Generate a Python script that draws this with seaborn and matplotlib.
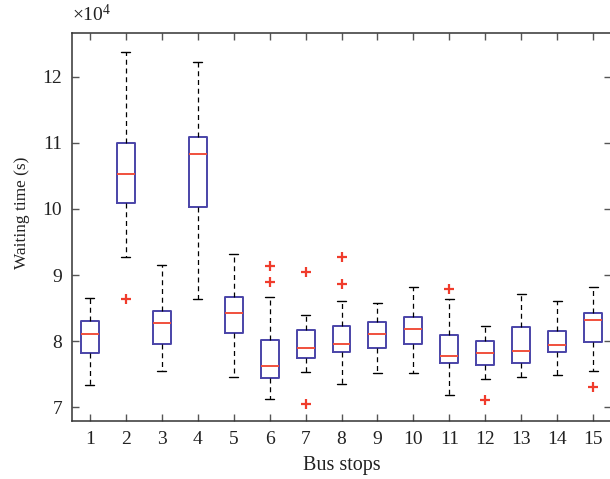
import numpy as np
import pandas as pd
import matplotlib
matplotlib.use("Agg")
import matplotlib.pyplot as plt
import seaborn as sns

# Values in units of 10^4 s
stops = [str(i) for i in range(1, 16)]
whisker_low = [7.34, 9.28, 7.55, 8.63, 7.46, 7.13, 7.53, 7.35, 7.52, 7.52, 7.18, 7.42, 7.45, 7.48, 7.55]
q1          = [7.82, 10.09, 7.95, 10.03, 8.12, 7.44, 7.75, 7.83, 7.90, 7.95, 7.67, 7.64, 7.67, 7.83, 7.98]
median      = [8.10, 10.53, 8.28, 10.83, 8.42, 7.62, 7.90, 7.95, 8.11, 8.19, 7.77, 7.82, 7.85, 7.94, 8.32]
q3          = [8.30, 11.00, 8.46, 11.09, 8.66, 8.02, 8.17, 8.23, 8.29, 8.36, 8.09, 8.00, 8.22, 8.16, 8.43]
whisker_high= [8.65, 12.37, 9.15, 12.22, 9.32, 8.66, 8.40, 8.60, 8.58, 8.82, 8.63, 8.23, 8.72, 8.61, 8.82]
outlier_stop  = ["2", "6", "6", "7", "7", "8", "8", "11", "12", "15"]
outlier_value = [8.64, 9.14, 8.90, 9.04, 7.05, 9.27, 8.87, 8.79, 7.11, 7.31]

rows = []
for s, a, b, c, d, e in zip(stops, whisker_low, q1, median, q3, whisker_high):
    for v in (a, b, c, d, e):
        rows.append({"stop": s, "value": v})
df = pd.DataFrame(rows)
df_out = pd.DataFrame({"stop": outlier_stop, "value": outlier_value})

sns.set_style("ticks")
plt.rcParams["font.family"] = ["Liberation Serif", "DejaVu Serif"]
plt.rcParams["mathtext.fontset"] = "custom"
plt.rcParams["mathtext.rm"] = "Liberation Serif"
plt.rcParams["mathtext.it"] = "Liberation Serif:italic"

fig = plt.figure(figsize=(6.10, 4.79), dpi=100)
ax = fig.add_axes([72/610, 58/479, 539/610, 387.7/479])

box_color = "#4a44a8"
med_color = "#f0503c"
sns.boxplot(data=df, x="stop", y="value", order=stops, whis=(0, 100), width=0.5,
            fill=False, linecolor=box_color, linewidth=1.4, showfliers=False, ax=ax,
            boxprops=dict(color=box_color, linewidth=1.4),
            medianprops=dict(color=med_color, linewidth=1.4),
            whiskerprops=dict(color="black", linestyle=(0, (4, 3)), linewidth=0.9),
            capprops=dict(color="black", linewidth=1.0))
sns.stripplot(data=df_out, x="stop", y="value", order=stops, jitter=False, marker="+",
              color="#f03c2c", size=7, linewidth=1.6, ax=ax)

ax.set_xlim(-0.5, 14.5)
ax.set_ylim(6.79, 12.66)
ax.set_yticks([7, 8, 9, 10, 11, 12])
ax.set_yticklabels(["7", "8", "9", "10", "11", "12"])
ax.tick_params(direction="in", length=5, width=1.0, color="#555555", labelsize=14,
               top=True, right=True, pad=7, labelcolor="#222222")
for sp in ax.spines.values():
    sp.set_color("#333333")
    sp.set_linewidth(1.1)
ax.set_xlabel("Bus stops", fontsize=14.5, color="#222222", labelpad=6)
ax.set_ylabel("Waiting time (s)", fontsize=12.4, color="#222222")
ax.yaxis.set_label_coords(-0.078, 0.537)
ax.text(0.0, 1.02, r"$\times10^{4}$", transform=ax.transAxes, fontsize=14,
        color="#222222", ha="left", va="bottom")

fig.savefig("out.png", dpi=100)
